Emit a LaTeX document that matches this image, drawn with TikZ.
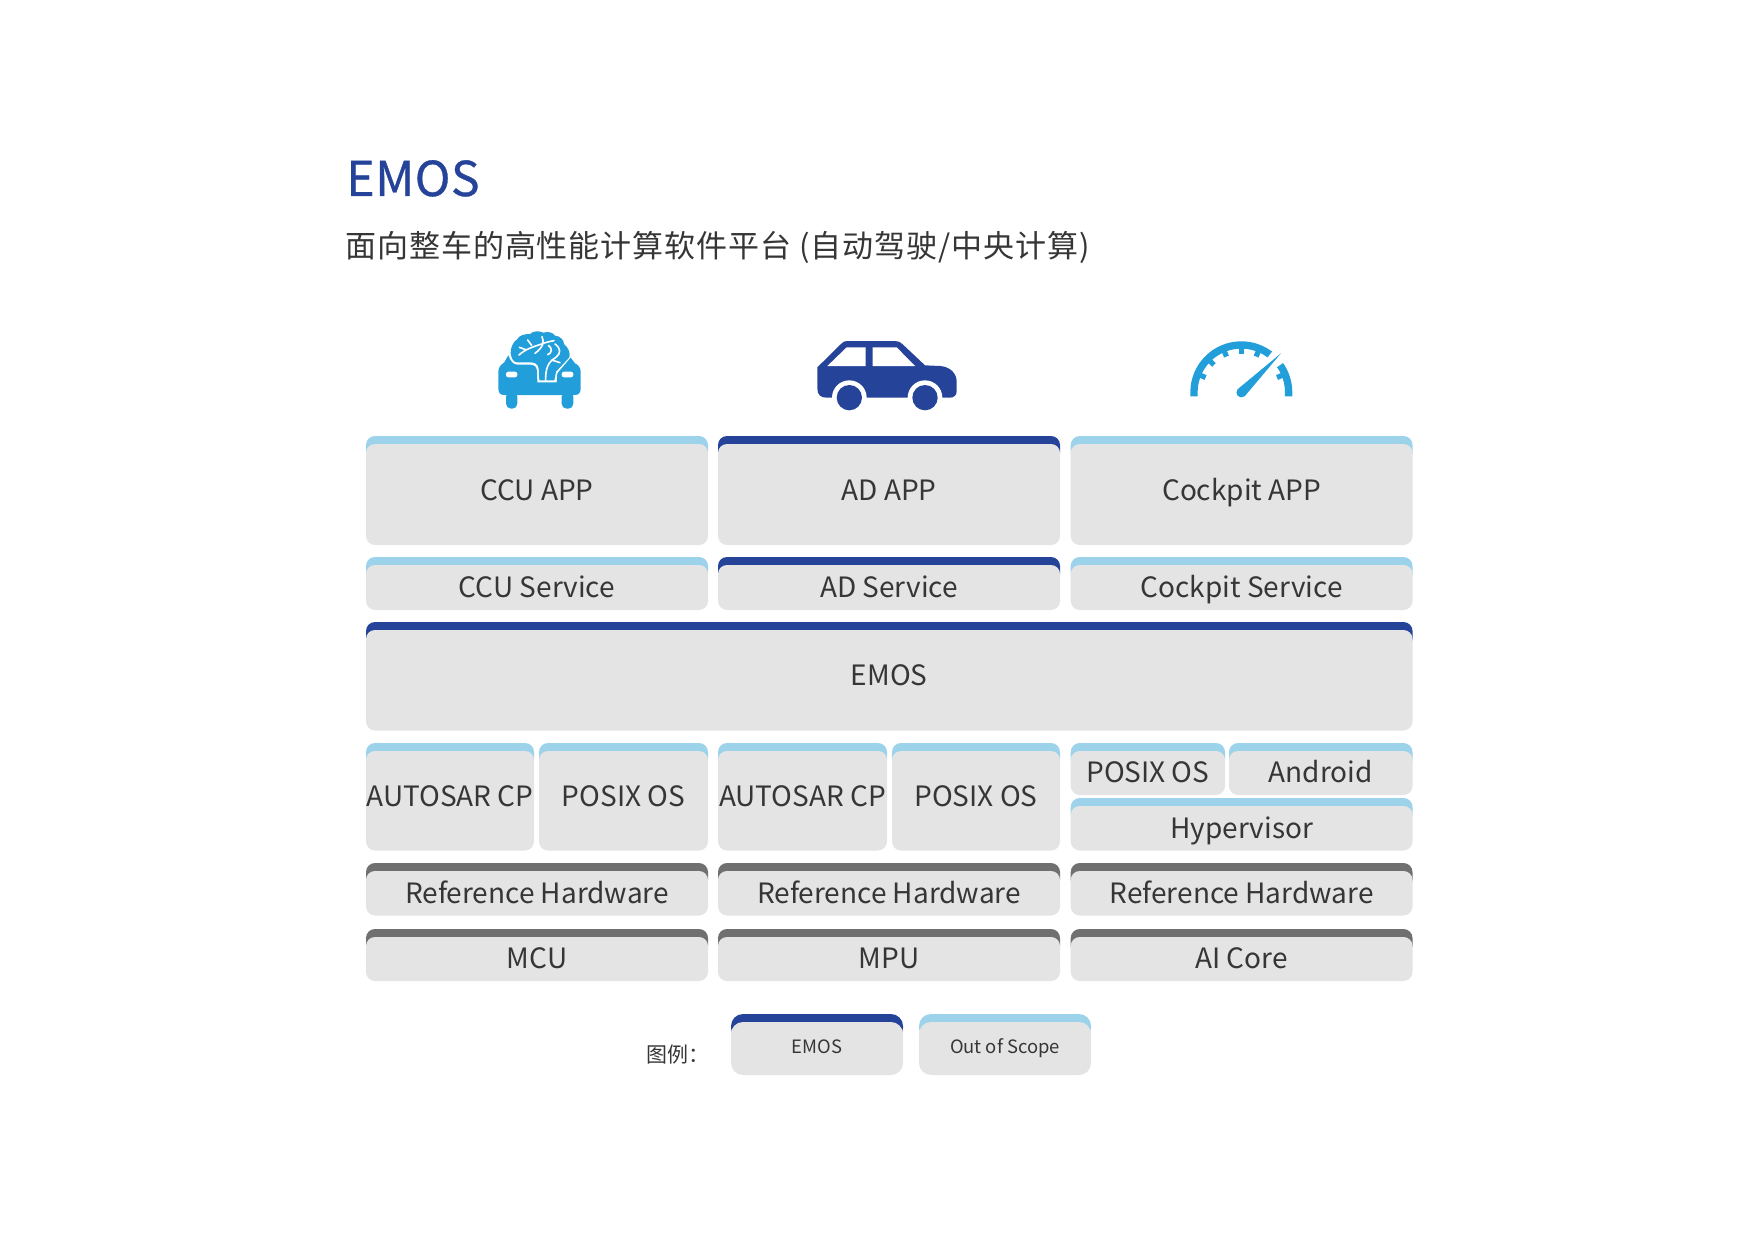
\documentclass[tikz,border=0pt]{standalone}
\usepackage{fontspec}
\setmainfont{Noto Sans CJK SC}
\newfontfamily\titlefont[FakeBold=0.7,LetterSpace=1.2]{Noto Sans CJK SC}
\newfontfamily\subtitlefont[LetterSpace=3]{Noto Sans CJK SC}
\definecolor{tilegrey}{HTML}{E4E4E4}
\definecolor{textdark}{HTML}{363636}
\definecolor{bandlight}{HTML}{9DD2EB}
\definecolor{banddark}{HTML}{26439A}
\definecolor{bandgrey}{HTML}{707070}
\definecolor{iconblue}{HTML}{229FDA}
\tikzset{
  tile/.style={fill=tilegrey, text=textdark, inner sep=0pt, rounded corners=4.5pt,
    text height=9.9pt, text depth=0pt, font=\fontsize{14pt}{16pt}\selectfont},
  tall/.style={text height=5.6pt},
  legendtile/.style={rounded corners=6pt, text height=5.4pt,
    font=\fontsize{9.2pt}{11pt}\selectfont},
}
\newcommand{\tile}[8][]{
  \fill[#7, rounded corners=4.5pt, #1] (#3,#4) rectangle (#5,#4+26);
  \node (#2) [tile, #1, minimum width={(#5-#3)*0.5pt}, minimum height={(#6-#4-8)*0.5pt}]
    at ({(#3+#5)/2},{(#4+8+#6)/2}) {#8};
}
\begin{document}
\begin{tikzpicture}[x=0.5pt,y=-0.5pt]
\useasboundingbox (0,0) rectangle (1754,1241);
\node (title) [anchor=base west, inner sep=0pt, text=banddark, font=\titlefont\fontsize{24pt}{28pt}\selectfont] at (346,196) {EMOS};
\node (subtitle) [anchor=base west, inner sep=0pt, text=textdark, font=\subtitlefont\fontsize{15.5pt}{17pt}\selectfont] at (345,257) {面向整车的高性能计算软件平台\hspace{4pt}(自动驾驶/中央计算)};

% top row
\tile[tall]{ccuapp}{366}{436}{708}{545}{bandlight}{CCU APP}
\tile[tall]{adapp}{718}{436}{1060}{545}{banddark}{AD APP}
\tile[tall]{cockpitapp}{1070.7}{436}{1412.5}{545}{bandlight}{Cockpit APP}
\tile{ccuservice}{366}{557}{708}{610}{bandlight}{CCU Service}
\tile{adservice}{718}{557}{1060}{610}{banddark}{AD Service}
\tile{cockpitservice}{1070.7}{557}{1412.5}{610}{bandlight}{Cockpit Service}
\tile[tall]{emos}{366}{622}{1412.5}{730.5}{banddark}{EMOS}

% os row
\tile[tall]{autosarone}{366}{743}{534}{850.5}{bandlight}{AUTOSAR CP}
\tile[tall]{posixone}{539}{743}{708}{850.5}{bandlight}{POSIX OS}
\tile[tall]{autosartwo}{718}{743}{887}{850.5}{bandlight}{AUTOSAR CP}
\tile[tall]{posixtwo}{892}{743}{1060}{850.5}{bandlight}{POSIX OS}
\tile{posixthree}{1070.7}{743}{1225}{795}{bandlight}{POSIX OS}
\tile{android}{1229}{743}{1412.5}{795}{bandlight}{Android}
\tile{hypervisor}{1070.7}{798}{1412.5}{850.5}{bandlight}{Hypervisor}

% hardware rows
\tile{hwone}{366}{863}{708}{915.5}{bandgrey}{Reference Hardware}
\tile{hwtwo}{718}{863}{1060}{915.5}{bandgrey}{Reference Hardware}
\tile{hwthree}{1070.7}{863}{1412.5}{915.5}{bandgrey}{Reference Hardware}
\tile{mcu}{366}{929}{708}{981}{bandgrey}{MCU}
\tile{mpu}{718}{929}{1060}{981}{bandgrey}{MPU}
\tile{aicore}{1070.7}{929}{1412.5}{981}{bandgrey}{AI Core}

% legend
\node (legend) [anchor=base west, inner sep=0pt, text=textdark, font=\fontsize{10.5pt}{12pt}\selectfont] at (646,1062) {图例：};
\tile[legendtile]{legendemos}{731}{1014}{903}{1075}{banddark}{EMOS}
\tile[legendtile]{legendscope}{919}{1014}{1091}{1075}{bandlight}{Out of Scope}

% brain car
\begin{scope}[shift={(480,320)},scale=1/3]
\fill[iconblue] (72,225) .. controls (60,225) and (55,217) .. (55,205) -- (55,155)
  .. controls (55,140) and (65,133) .. (72,128) -- (85,106) .. controls (92,125) and (100,134) .. (112,134)
  -- (150,134) .. controls (165,134) and (170,142) .. (171,155) -- (172,187) -- (230,187) -- (232,160)
  -- (272,113) -- (285,130) .. controls (295,135) and (302,143) .. (302,155) -- (302,205)
  .. controls (302,217) and (297,225) .. (285,225) -- cycle;
\fill[iconblue, rounded corners=2.5pt] (78,215) rectangle (112,266);
\fill[iconblue, rounded corners=2.5pt] (245,215) rectangle (280,266);
\fill[white, rounded corners=1.2pt] (78,155) rectangle (112,172);
\fill[white, rounded corners=1.2pt] (245,155) rectangle (280,172);
\fill[iconblue] (178,181) -- (176,145) .. controls (174,132) and (165,127) .. (150,127) -- (112,127)
  .. controls (100,127) and (94,115) .. (92,100) .. controls (90,85) and (100,65) .. (112,57)
  .. controls (118,45) and (135,42) .. (150,42) .. controls (160,32) and (178,32) .. (190,38)
  .. controls (205,33) and (220,38) .. (225,47) .. controls (240,48) and (252,60) .. (252,72)
  .. controls (265,82) and (272,100) .. (268,112) -- (228,155) -- (223,181) -- cycle;
\draw[white, line width=0.8pt, line cap=round]
  (117,105) .. controls (135,88) and (160,80) .. (185,72) .. controls (195,68) and (205,65) .. (222,62)
  (143,60) -- (155,76) (118,82) -- (140,90)
  (186,50) .. controls (192,65) and (192,80) .. (165,100)
  (225,72) .. controls (243,85) and (243,100) .. (228,112) .. controls (205,125) and (196,145) .. (197,181)
  (205,76) .. controls (218,84) and (216,100) .. (203,104)
  (215,120) -- (240,128);
\end{scope}

% car
\begin{scope}[shift={(800,330)},scale=1/3]
\fill[banddark] (52,112) -- (125,40) .. controls (130,35) and (135,33) .. (142,33) -- (285,33)
  .. controls (295,33) and (300,36) .. (307,42) -- (375,106) -- (420,108)
  .. controls (450,110) and (470,130) .. (470,155) -- (470,185) .. controls (470,197) and (460,203) .. (450,203)
  -- (80,203) .. controls (62,203) and (52,195) .. (52,175) -- cycle;
\fill[white] (82,108) -- (140,52) -- (197,52) -- (197,108) -- cycle;
\fill[white] (218,52) -- (290,52) -- (345,108) -- (218,108) -- cycle;
\fill[white] (148,203) circle[radius=26pt];
\fill[white] (375,203) circle[radius=26pt];
\fill[banddark] (148,203) circle[radius=19pt];
\fill[banddark] (375,203) circle[radius=19pt];
\end{scope}

% gauge
\begin{scope}[shift={(1241.3,392.3)},x=1pt,y=1pt,scale=1/6]
\fill[iconblue] (-153,-12) -- (-153,0) arc[start angle=180, end angle=53, radius=153pt]
  -- (53:131) arc[start angle=53, end angle=180, radius=131pt] -- (-131,-12) -- cycle;
\fill[iconblue] (153,-12) -- (153,0) arc[start angle=0, end angle=35, radius=153pt]
  -- (35:131) arc[start angle=35, end angle=0, radius=131pt] -- (131,-12) -- cycle;
\foreach \tick in {22.5,67.5,90,112.5,135,157.5}
  \draw[iconblue, line width=2.6pt] (\tick:135) -- (\tick:116);
\fill[iconblue] (119,117) -- (10,-12) arc[start angle=-50, end angle=-220, radius=15pt] -- cycle;
\end{scope}
\end{tikzpicture}
\end{document}
